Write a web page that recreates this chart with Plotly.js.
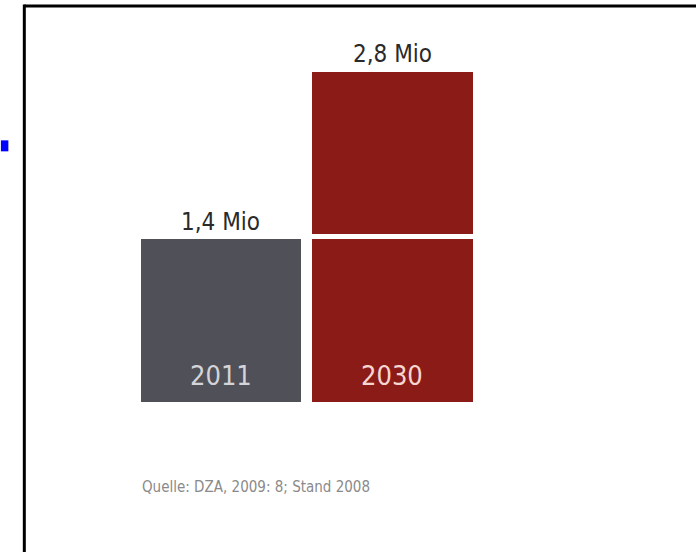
<!DOCTYPE html>
<html>
<head>
<meta charset="utf-8">
<script src="https://cdn.plot.ly/plotly-3.0.1.min.js"></script>
<style>
html,body{margin:0;padding:0;background:#fff;}
#chart{width:696px;height:552px;}
</style>
</head>
<body>
<div id="chart"></div>
<script>
var categories = ['2011', '2030'];
var lowerValues = [1.4, 1.4];
var upperCategories = ['2030'];
var upperValues = [1.4];
var totalLabels = ['1,4 Mio', '2,8 Mio'];
var barColors = ['#505058', '#8b1b16'];
var sourceText = 'Quelle: DZA, 2009: 8; Stand 2008';

var FONT = '"Liberation Sans Narrow", "DejaVu Sans Condensed", "Liberation Sans", sans-serif';

var totals = categories.map(function (c, i) {
  var t = lowerValues[i];
  var j = upperCategories.indexOf(c);
  if (j >= 0) t += upperValues[j];
  return t;
});

var traces = [
  {
    type: 'bar',
    x: categories,
    y: lowerValues,
    width: 0.965,
    marker: {color: barColors, line: {color: '#ffffff', width: 5}},
    hoverinfo: 'skip'
  },
  {
    type: 'bar',
    x: upperCategories,
    y: upperValues,
    width: 0.965,
    marker: {color: barColors[1], line: {color: '#ffffff', width: 5}},
    hoverinfo: 'skip'
  }
];

var annotations = [];
categories.forEach(function (c, i) {
  annotations.push({
    x: i, y: totals[i], xref: 'x', yref: 'y',
    text: totalLabels[i], showarrow: false,
    yanchor: 'bottom', yshift: -1,
    font: {family: FONT, size: 24, color: '#2a2a2a'}
  });
  annotations.push({
    x: i, y: 0, xref: 'x', yref: 'y',
    text: c, showarrow: false,
    yanchor: 'middle', yshift: 29,
    font: {family: FONT, size: 27, color: i === 0 ? '#d4d4d8' : '#f6d6d0'}
  });
});
annotations.push({
  x: (140 - 134.5) / 344, y: (404.5 - 488) / 374.5, xref: 'paper', yref: 'paper',
  xanchor: 'left', yanchor: 'middle', showarrow: false,
  text: sourceText,
  font: {family: FONT, size: 15, color: '#8a8a8a'}
});

function px(x) { return (x - 134.5) / 344; }
function py(y) { return (404.5 - y) / 374.5; }

var shapes = [
  {type: 'line', xref: 'paper', yref: 'paper', x0: px(23.5), x1: px(700), y0: py(6), y1: py(6), line: {color: '#000', width: 3}},
  {type: 'line', xref: 'paper', yref: 'paper', x0: px(23.5), x1: px(23.5), y0: py(4.5), y1: py(560), line: {color: '#000', width: 3}},
  {type: 'rect', xref: 'paper', yref: 'paper', x0: px(0), x1: px(7.5), y0: py(151.5), y1: py(140.5), line: {width: 0}, fillcolor: '#0000ff'}
];

var layout = {
  width: 696, height: 552,
  margin: {l: 134.5, r: 217.5, t: 30, b: 147.5, pad: 0},
  paper_bgcolor: '#ffffff', plot_bgcolor: '#ffffff',
  barmode: 'stack',
  bargap: 0,
  showlegend: false,
  xaxis: {type: 'category', range: [-0.5, 1.5], visible: false, fixedrange: true},
  yaxis: {range: [0, 3.13], visible: false, fixedrange: true},
  annotations: annotations,
  shapes: shapes
};

Plotly.newPlot('chart', traces, layout, {displayModeBar: false, staticPlot: true});
</script>
</body>
</html>
